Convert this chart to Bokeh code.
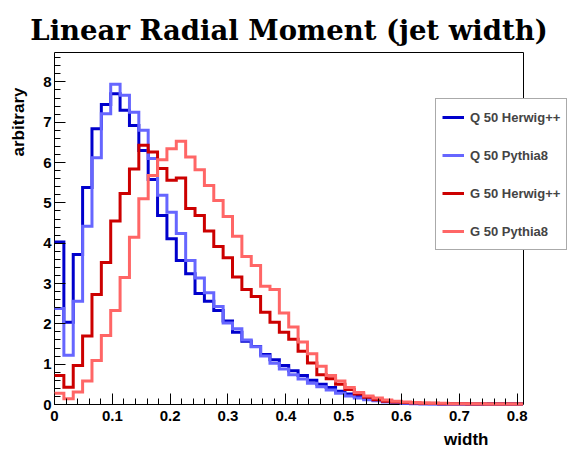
import numpy as np
from math import pi
from bokeh.plotting import figure
from bokeh.models import Range1d, FixedTicker, Legend, LegendItem, Label
from bokeh.embed import file_html
from bokeh.resources import INLINE

# ---- data ----
bin_width = 0.0162
n_bins = 50
q_herwig = [4.03, 2.04, 3.72, 5.38, 6.84, 7.44, 7.71, 7.30, 6.92, 6.30,
            5.58, 4.69, 4.11, 3.57, 3.24, 2.75, 2.56, 2.33, 2.07, 1.79,
            1.57, 1.44, 1.24, 1.11, 0.97, 0.84, 0.72, 0.60, 0.50, 0.42,
            0.33, 0.26, 0.20, 0.15, 0.11, 0.08, 0.06, 0.04, 0.03, 0.02,
            0.02, 0.01, 0.01, 0.01, 0.01, 0.01, 0.01, 0.01, 0.01, 0.01]
q_pythia = [2.38, 1.22, 2.56, 4.42, 6.12, 7.21, 7.94, 7.67, 7.25, 6.80,
            6.10, 5.19, 4.77, 4.24, 3.57, 3.14, 2.77, 2.43, 2.02, 1.88,
            1.60, 1.43, 1.20, 1.02, 0.88, 0.74, 0.63, 0.53, 0.44, 0.36,
            0.28, 0.21, 0.16, 0.12, 0.09, 0.06, 0.05, 0.03, 0.02, 0.02,
            0.01, 0.01, 0.01, 0.01, 0.01, 0.01, 0.01, 0.01, 0.01, 0.01]
g_herwig = [0.72, 0.43, 0.97, 1.70, 2.73, 3.52, 4.55, 5.23, 5.84, 6.43,
            6.26, 5.85, 5.56, 5.62, 4.86, 4.69, 4.30, 3.92, 3.64, 3.16,
            2.85, 2.68, 2.29, 2.04, 1.79, 1.62, 1.32, 1.03, 0.74, 0.64,
            0.50, 0.37, 0.26, 0.18, 0.12, 0.08, 0.06, 0.05, 0.04, 0.03,
            0.03, 0.02, 0.02, 0.02, 0.01, 0.01, 0.01, 0.01, 0.01, 0.01]
g_pythia = [0.28, 0.14, 0.31, 0.58, 1.09, 1.71, 2.33, 3.15, 4.15, 5.10,
            5.68, 6.07, 6.34, 6.53, 6.14, 5.82, 5.43, 5.06, 4.66, 4.17,
            3.67, 3.45, 2.93, 2.85, 2.27, 1.92, 1.55, 1.26, 0.95, 0.72,
            0.58, 0.42, 0.30, 0.21, 0.16, 0.11, 0.08, 0.06, 0.05, 0.04,
            0.03, 0.03, 0.02, 0.02, 0.02, 0.02, 0.01, 0.01, 0.01, 0.01]
series_labels = ["Q 50 Herwig++", "Q 50 Pythia8", "G 50 Herwig++", "G 50 Pythia8"]
series_colors = ["#0000cc", "#6666ff", "#cc0000", "#ff6666"]
x_major_ticks = [0, 0.1, 0.2, 0.3, 0.4, 0.5, 0.6, 0.7, 0.8]
y_major_ticks = [0, 1, 2, 3, 4, 5, 6, 7, 8]

title_text = "Linear Radial Moment (jet width)"
x_title = "width"
y_title = "arbitrary"

x_max = 0.811       # right end of the axis box
y_max = 8.73        # top of the axis box
edges = np.arange(n_bins + 1) * bin_width

# canvas layout (pixels): axis box from x=54..523, y=52..404 of a 568x449 page.
# The plotting frame covers the whole page; axes are pinned at 0.
W, H = 568, 449
box_l, box_r, box_t, box_b = 54, 523, 52, 404
px_x = (box_r - box_l) / x_max
px_y = (box_b - box_t) / y_max

p = figure(width=W, height=H, output_backend="svg", toolbar_location=None,
           x_range=Range1d(-box_l / px_x, (W - box_l) / px_x),
           y_range=Range1d(-(H - box_b) / px_y, box_b / px_y),
           min_border=0)
p.background_fill_color = "white"
p.border_fill_color = "white"
p.outline_line_color = None
p.xgrid.visible = False
p.ygrid.visible = False

for ax in (p.xaxis, p.yaxis):
    ax.fixed_location = 0
    ax.major_tick_out = 0
    ax.minor_tick_out = 0
    ax.major_tick_in = 11
    ax.minor_tick_in = 6
    ax.axis_line_color = None
    ax.major_tick_line_color = "black"
    ax.minor_tick_line_color = "black"
    ax.major_label_text_font = "Liberation Sans"
    ax.major_label_text_font_style = "bold"
    ax.major_label_text_font_size = "15px"
    ax.major_label_text_color = "black"

minor_x = [round(m * 0.02, 2) for m in range(41)]
minor_y = [round(m * 0.2, 1) for m in range(44)]
p.xaxis.ticker = FixedTicker(ticks=x_major_ticks, minor_ticks=minor_x)
p.yaxis.ticker = FixedTicker(ticks=y_major_ticks, minor_ticks=minor_y)
p.xaxis.major_label_overrides = {0: "0"}
p.xaxis.major_label_standoff = 6
p.yaxis.major_label_standoff = 3

# axis box
p.segment(x0=[0, 0, 0, x_max], y0=[0, 0, y_max, 0],
          x1=[x_max, 0, x_max, x_max], y1=[0, y_max, y_max, y_max],
          line_color="black", line_width=1)

renderers = []
for vals, col in zip([q_herwig, q_pythia, g_herwig, g_pythia], series_colors):
    yv = list(vals) + [vals[-1]]
    r = p.step(x=edges, y=yv, mode="after", line_width=3, line_color=col,
               line_join="miter")
    renderers.append(r)

legend = Legend(items=[LegendItem(label=l, renderers=[r]) for l, r in zip(series_labels, renderers)],
                location=(435, H - 250))
legend.border_line_color = "#555555"
legend.border_line_width = 1
legend.background_fill_color = "white"
legend.background_fill_alpha = 1
legend.label_text_font = "Liberation Sans"
legend.label_text_font_style = "bold"
legend.label_text_font_size = "13px"
legend.glyph_width = 22
legend.glyph_height = 24
legend.label_height = 24
legend.spacing = 14
legend.padding = 6
legend.label_standoff = 6
legend.margin = 0
p.add_layout(legend, "center")

# main title above the axis box
p.add_layout(Label(x=x_max / 2, y=y_max + 23 / px_y, text=title_text,
                   text_align="center", text_baseline="alphabetic",
                   text_font="DejaVu Serif", text_font_style="bold",
                   text_font_size="27.5px", text_color="black"))
# axis titles
p.add_layout(Label(x=(488 - box_l) / px_x, y=-(439 - box_b) / px_y, text=x_title,
                   text_align="right", text_baseline="alphabetic",
                   text_font="Liberation Sans", text_font_style="bold",
                   text_font_size="17px", text_color="black"))
p.add_layout(Label(x=(18 - box_l) / px_x, y=(box_b - 87) / px_y, text=y_title,
                   angle=pi / 2, text_align="right", text_baseline="middle",
                   text_font="Liberation Sans", text_font_style="bold",
                   text_font_size="17px", text_color="black"))

open("out.html", "w").write(file_html(p, INLINE))
